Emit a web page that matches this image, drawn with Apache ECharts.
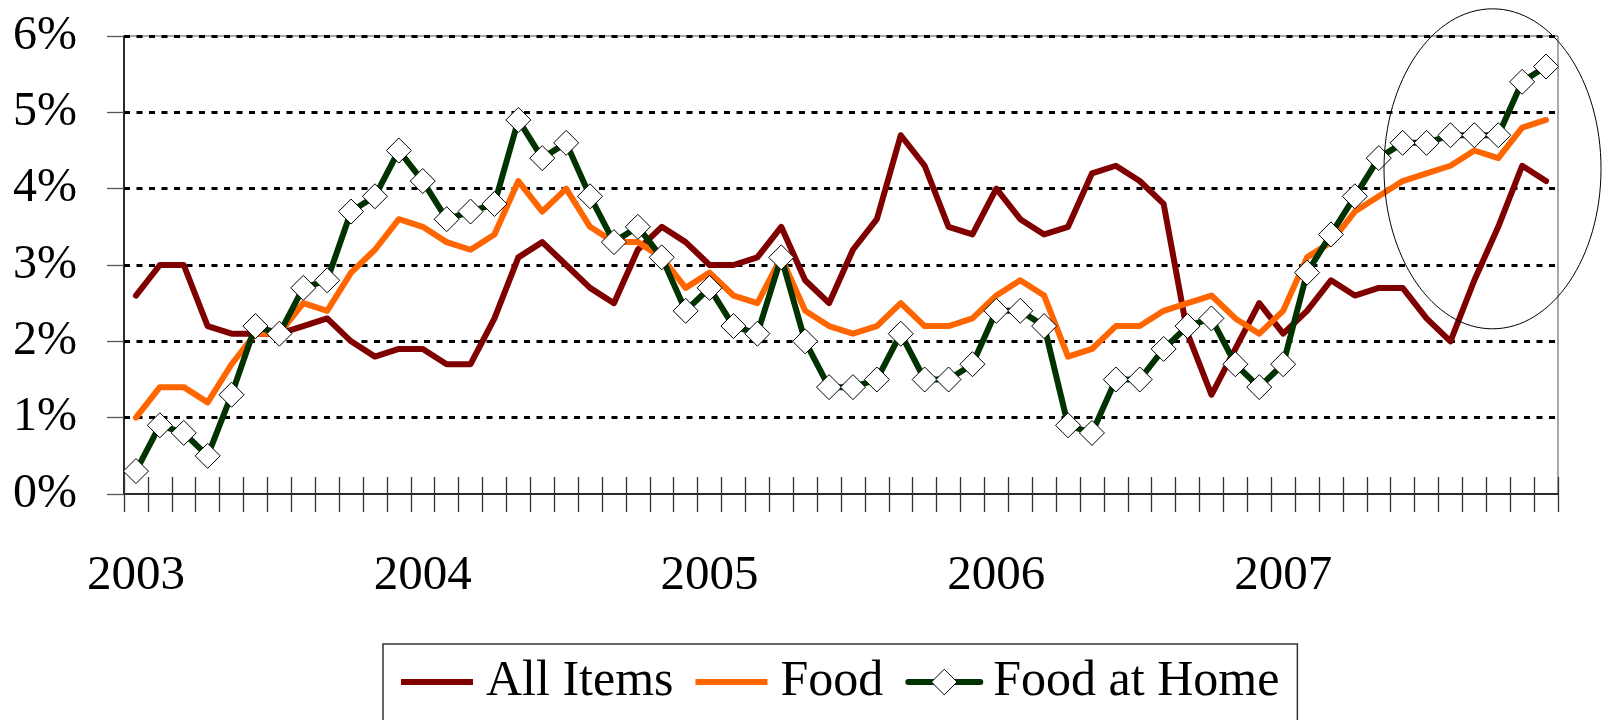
<!DOCTYPE html>
<html>
<head>
<meta charset="utf-8">
<script src="https://cdn.jsdelivr.net/npm/echarts@6/dist/echarts.min.js"></script>
<style>
  html, body { margin: 0; padding: 0; background: #fff; }
  #chart { width: 1602px; height: 720px; }
</style>
</head>
<body>
<div id="chart"></div>
<script>
// ---- data (12-month % change) ----
const years = ['2003', '2004', '2005', '2006', '2007'];
const months = ['Jan', 'Feb', 'Mar', 'Apr', 'May', 'Jun', 'Jul', 'Aug', 'Sep', 'Oct', 'Nov', 'Dec'];
const yTicks = [0, 1, 2, 3, 4, 5, 6];

const allItems = [
  2.6, 3.0, 3.0, 2.2, 2.1, 2.1, 2.1, 2.2, 2.3, 2.0, 1.8, 1.9,
  1.9, 1.7, 1.7, 2.3, 3.1, 3.3, 3.0, 2.7, 2.5, 3.2, 3.5, 3.3,
  3.0, 3.0, 3.1, 3.5, 2.8, 2.5, 3.2, 3.6, 4.7, 4.3, 3.5, 3.4,
  4.0, 3.6, 3.4, 3.5, 4.2, 4.3, 4.1, 3.8, 2.1, 1.3, 1.9, 2.5,
  2.1, 2.4, 2.8, 2.6, 2.7, 2.7, 2.3, 2.0, 2.8, 3.5, 4.3, 4.1
];
const food = [
  1.0, 1.4, 1.4, 1.2, 1.7, 2.1, 2.1, 2.5, 2.4, 2.9, 3.2, 3.6,
  3.5, 3.3, 3.2, 3.4, 4.1, 3.7, 4.0, 3.5, 3.3, 3.3, 3.1, 2.7,
  2.9, 2.6, 2.5, 3.1, 2.4, 2.2, 2.1, 2.2, 2.5, 2.2, 2.2, 2.3,
  2.6, 2.8, 2.6, 1.8, 1.9, 2.2, 2.2, 2.4, 2.5, 2.6, 2.3, 2.1,
  2.4, 3.1, 3.3, 3.7, 3.9, 4.1, 4.2, 4.3, 4.5, 4.4, 4.8, 4.9
];
const foodAtHome = [
  0.3, 0.9, 0.8, 0.5, 1.3, 2.2, 2.1, 2.7, 2.8, 3.7, 3.9, 4.5,
  4.1, 3.6, 3.7, 3.8, 4.9, 4.4, 4.6, 3.9, 3.3, 3.5, 3.1, 2.4,
  2.7, 2.2, 2.1, 3.1, 2.0, 1.4, 1.4, 1.5, 2.1, 1.5, 1.5, 1.7,
  2.4, 2.4, 2.2, 0.9, 0.8, 1.5, 1.5, 1.9, 2.2, 2.3, 1.7, 1.4,
  1.7, 2.9, 3.4, 3.9, 4.4, 4.6, 4.6, 4.7, 4.7, 4.7, 5.4, 5.6
];
// annotation ellipse centre, in data terms (category index, value)
const ellipseCentre = [56.76, 4.26];

const categories = [];
years.forEach(y => months.forEach(m => categories.push(y + ' ' + m)));

const FONT = '"Liberation Serif", "Times New Roman", serif';
const chart = echarts.init(document.getElementById('chart'), null, { renderer: 'canvas' });
const lineIcon = 'path://M0,0H72V6H0Z';

chart.setOption({
  animation: false,
  backgroundColor: '#fff',
  grid: {
    left: 124, right: 44, top: 36, bottom: 226,
    show: true, borderColor: '#555', borderWidth: 1, backgroundColor: 'transparent'
  },
  legend: {
    left: 383, top: 644,
    orient: 'horizontal',
    padding: [13, 18, 40, 18],
    itemGap: 22,
    itemWidth: 72,
    itemHeight: 32,
    borderColor: '#333',
    borderWidth: 1.5,
    textStyle: { fontFamily: FONT, fontSize: 50, color: '#000', lineHeight: 50, padding: [0, 0, 0, 8] },
    data: [
      { name: 'All Items', icon: lineIcon, itemStyle: { borderWidth: 0 } },
      { name: 'Food', icon: lineIcon, itemStyle: { borderWidth: 0 } },
      { name: 'Food at Home', lineStyle: { width: 6, color: '#003300' },
        itemStyle: { color: '#fff', borderColor: '#000', borderWidth: 1 } }
    ]
  },
  xAxis: [
    {
      type: 'category',
      data: categories,
      boundaryGap: true,
      position: 'bottom',
      axisLine: { show: true, lineStyle: { color: '#000', width: 1.5 } },
      axisTick: { show: true, interval: 0, inside: false, length: 18, lineStyle: { color: '#333', width: 1.3 } },
      axisLabel: {
        interval: 0,
        margin: 58,
        fontFamily: FONT, fontSize: 49, color: '#000', lineHeight: 49,
        formatter: (v) => v.endsWith('Jan') ? v.slice(0, 4) : ''
      },
      splitLine: { show: false }
    },
    {
      type: 'category',
      data: categories,
      boundaryGap: true,
      position: 'bottom',
      axisLine: { show: false },
      axisTick: { show: true, interval: 0, inside: true, length: 17, lineStyle: { color: '#333', width: 1.3 } },
      axisLabel: { show: false },
      splitLine: { show: false }
    }
  ],
  yAxis: {
    type: 'value',
    min: yTicks[0], max: yTicks[yTicks.length - 1], interval: 1,
    axisLine: { show: true, lineStyle: { color: '#000', width: 1.5 } },
    axisTick: { show: true, inside: false, length: 17, lineStyle: { color: '#555', width: 1.3 } },
    axisLabel: {
      margin: 47,
      fontFamily: FONT, fontSize: 48, color: '#000',
      formatter: '{value}%'
    },
    splitLine: {
      show: true, showMinLine: false,
      lineStyle: { color: '#000', width: 3, type: [6, 6.5] }
    }
  },
  series: [
    {
      name: 'All Items', type: 'line', data: allItems,
      color: '#800000', symbol: 'none',
      lineStyle: { color: '#800000', width: 6, cap: 'round', join: 'round' }
    },
    {
      name: 'Food', type: 'line', data: food,
      color: '#FF6600', symbol: 'none',
      lineStyle: { color: '#FF6600', width: 6, cap: 'round', join: 'round' }
    },
    {
      name: 'Food at Home', type: 'line', data: foodAtHome,
      symbol: 'diamond', symbolSize: 25, showAllSymbol: true,
      itemStyle: { color: '#fff', borderColor: '#000', borderWidth: 1 },
      lineStyle: { color: '#003300', width: 6, cap: 'round', join: 'round' }
    }
  ]
});

// ellipse annotation positioned from data coordinates
const i0 = Math.floor(ellipseCentre[0]);
const f = ellipseCentre[0] - i0;
const pA = chart.convertToPixel({ xAxisIndex: 0, yAxisIndex: 0 }, [categories[i0], ellipseCentre[1]]);
const pB = chart.convertToPixel({ xAxisIndex: 0, yAxisIndex: 0 }, [categories[i0 + 1], ellipseCentre[1]]);
const cx = pA[0] + (pB[0] - pA[0]) * f;
const cy = pA[1];
chart.setOption({
  graphic: [{
    type: 'ellipse',
    shape: { cx: cx, cy: cy, rx: 108.5, ry: 160 },
    style: { fill: 'none', stroke: '#000', lineWidth: 1 },
    z: 100,
    silent: true
  }]
});
</script>
</body>
</html>
